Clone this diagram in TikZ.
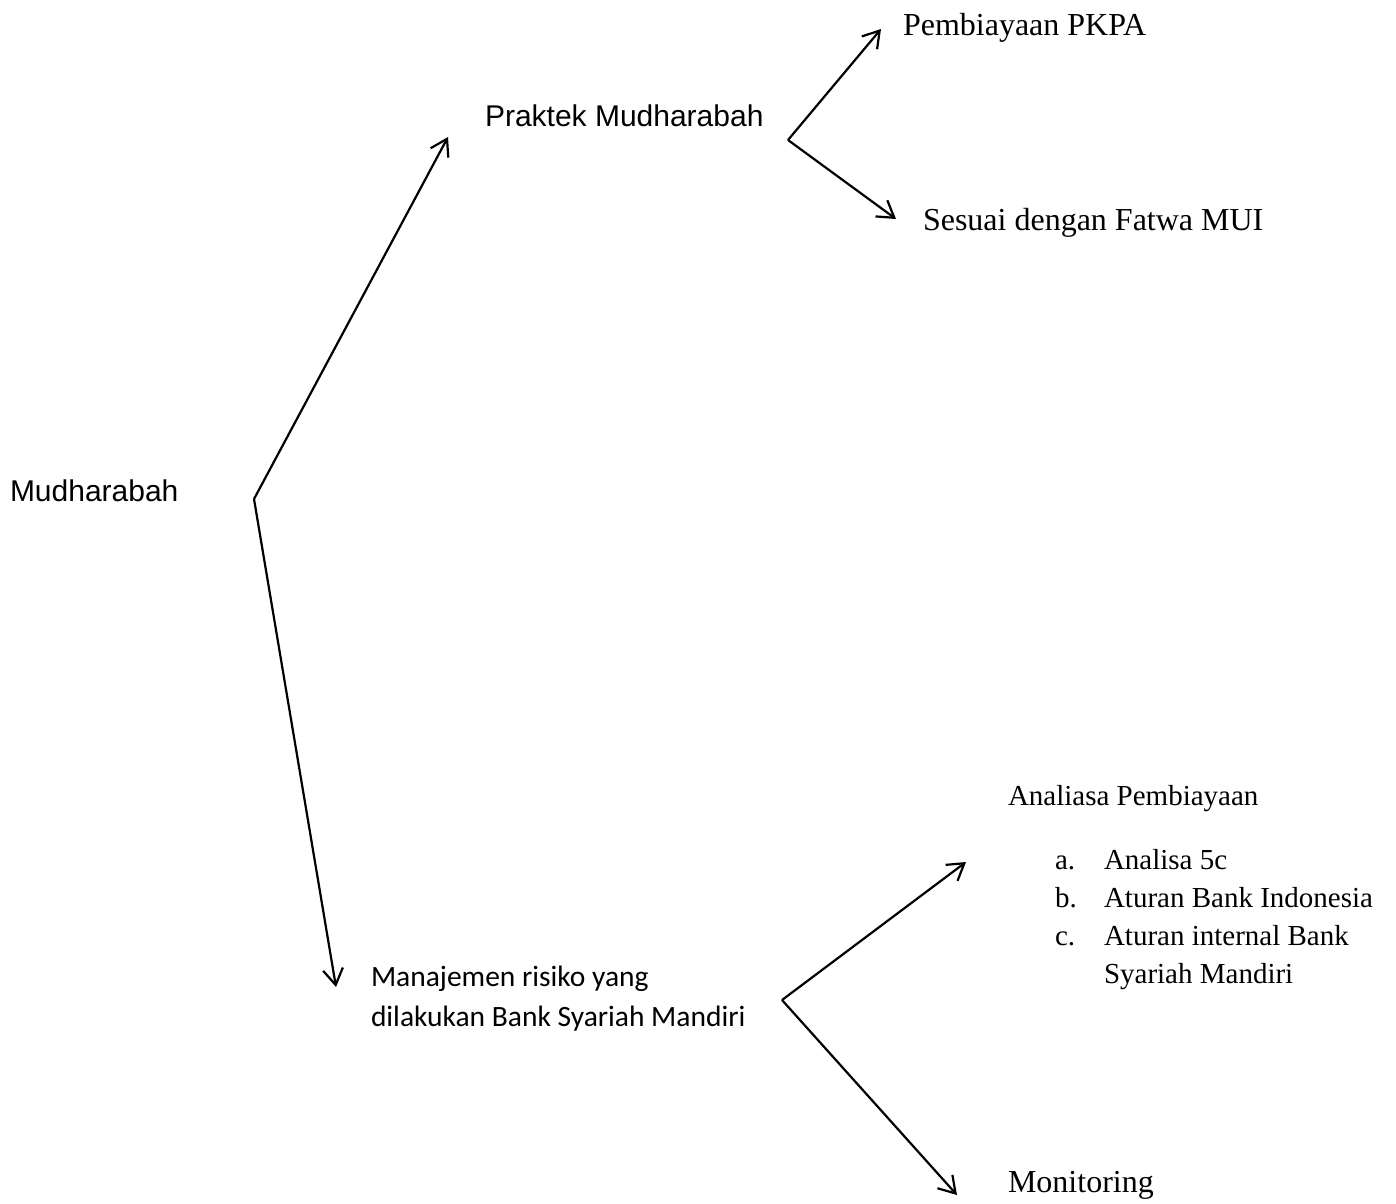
\documentclass[tikz,border=0pt]{standalone}
\usepackage{fontspec}
\setmainfont{Liberation Serif}
\newfontfamily\arialf{Liberation Sans}
\newfontfamily\calibrif{Carlito}
\usetikzlibrary{arrows.meta}
\begin{document}
\begin{tikzpicture}[x=1pt,y=-1pt,
  conn/.style={line width=2.2pt, -{Straight Barb[length=16pt,width=20pt]}},
  lbl/.style={anchor=base west, inner sep=0pt, outer sep=0pt},
  sansA/.style={lbl, font=\arialf\fontsize{30}{36}\selectfont},
  serifA/.style={lbl, font=\fontsize{32}{38}\selectfont},
  serifB/.style={lbl, font=\fontsize{29}{35}\selectfont},
  calA/.style={lbl, font=\calibrif\fontsize{29.5}{35}\selectfont}]
\path[use as bounding box, fill=white] (0,0) rectangle (1396,1203);

% texts
\node[sansA] (mud) at (10,501) {Mudharabah};
\node[sansA] (prak) at (485,126) {Praktek Mudharabah};
\node[serifA] (pkpa) at (903,35) {Pembiayaan PKPA};
\node[serifA] (fatwa) at (923,230) {Sesuai dengan Fatwa MUI};
\node[calA] (man1) at (371,986) {Manajemen risiko yang};
\node[calA] (man2) at (371,1026) {dilakukan Bank Syariah Mandiri};
\node[serifB] (anal) at (1008,805) {Analiasa Pembiayaan};
\node[serifB] (la) at (1055,869) {a.};
\node[serifB] (ta) at (1104,869) {Analisa 5c};
\node[serifB] (lb) at (1055,907) {b.};
\node[serifB] (tb) at (1104,907) {Aturan Bank Indonesia};
\node[serifB] (lc) at (1055,945) {c.};
\node[serifB] (tc) at (1104,945) {Aturan internal Bank};
\node[serifB] (tc2) at (1104,983) {Syariah Mandiri};
\node[serifA] (mon) at (1008,1192) {Monitoring};

% connector points
\coordinate (vA) at (254,499);
\coordinate (tA1) at (448,137);
\coordinate (tA2) at (336,987);
\coordinate (vB) at (788,140);
\coordinate (tB1) at (881,29);
\coordinate (tB2) at (896,219);
\coordinate (vC) at (782,1000);
\coordinate (tC1) at (966,862);
\coordinate (tC2) at (957,1195);

\draw[conn] (vA) -- (tA1);
\draw[conn] (vA) -- (tA2);
\draw[conn] (vB) -- (tB1);
\draw[conn] (vB) -- (tB2);
\draw[conn] (vC) -- (tC1);
\draw[conn] (vC) -- (tC2);
\end{tikzpicture}
\end{document}
